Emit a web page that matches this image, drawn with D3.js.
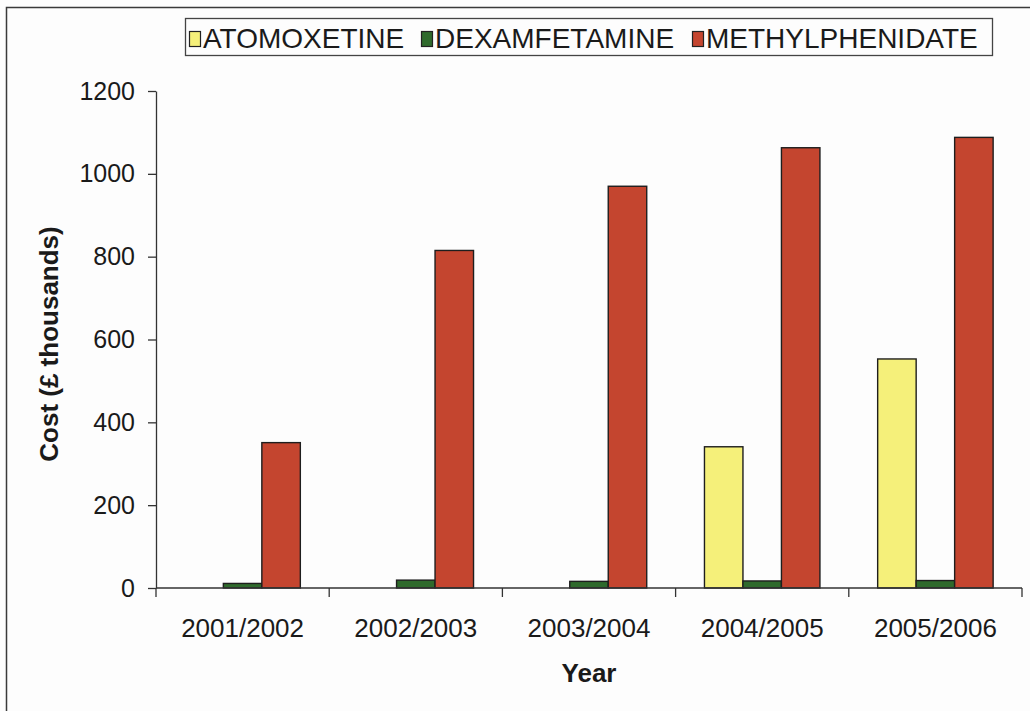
<!DOCTYPE html>
<html>
<head>
<meta charset="utf-8">
<script src="https://cdn.jsdelivr.net/npm/d3@7"></script>
<style>
  html, body { margin: 0; padding: 0; background: #fdfdfd; }
  svg { display: block; font-family: Arial, "Liberation Sans", sans-serif; }
</style>
</head>
<body>
<svg id="chart" width="1030" height="711"></svg>
<script>
// ---- data ----
const categories = ["2001/2002", "2002/2003", "2003/2004", "2004/2005", "2005/2006"];
const seriesNames = ["ATOMOXETINE", "DEXAMFETAMINE", "METHYLPHENIDATE"];
const atomoxetine = [0, 0, 0, 341, 553];
const dexamfetamine = [11, 19, 16, 17, 18];
const methylphenidate = [351, 815, 970, 1063, 1088];
const yTicks = [0, 200, 400, 600, 800, 1000, 1200];
const colors = ["#f5f07a", "#2f6a2c", "#c4452f"];

const seriesValues = [atomoxetine, dexamfetamine, methylphenidate];

const svg = d3.select("#chart");

// outer frame
svg.append("rect")
  .attr("x", 6.5).attr("y", 7.5)
  .attr("width", 1060).attr("height", 740)
  .attr("fill", "#fdfdfd")
  .attr("stroke", "#3a3a3a").attr("stroke-width", 1.5);

const plotLeft = 156, plotRight = 1022, plotTop = 91, plotBottom = 588;

const x = d3.scaleBand().domain(categories).range([plotLeft, plotRight]).paddingInner(0).paddingOuter(0);
const bw = x.bandwidth();
const x1 = d3.scaleBand().domain(seriesNames).range([bw / 6, bw * 5 / 6]).padding(0);
const y = d3.scaleLinear().domain([0, 1200]).range([plotBottom, plotTop]);

// bars
const rows = [];
categories.forEach((c, i) => {
  seriesNames.forEach((s, j) => {
    rows.push({ cat: c, series: s, value: seriesValues[j][i], color: colors[j] });
  });
});

svg.append("g").selectAll("rect")
  .data(rows.filter(d => d.value > 0))
  .join("rect")
  .attr("x", d => x(d.cat) + x1(d.series))
  .attr("y", d => y(d.value))
  .attr("width", x1.bandwidth())
  .attr("height", d => y(0) - y(d.value))
  .attr("fill", d => d.color)
  .attr("stroke", "#1e1e1e")
  .attr("stroke-width", 1.4);

// y axis
const yAxis = svg.append("g")
  .attr("transform", `translate(${plotLeft},0)`)
  .call(d3.axisLeft(y).tickValues(yTicks).tickFormat(d3.format("d"))
    .tickSize(8).tickPadding(13).tickSizeOuter(0));
yAxis.select(".domain").attr("stroke", "#333").attr("stroke-width", 1.3);
yAxis.selectAll(".tick line").attr("stroke", "#333").attr("stroke-width", 1.3);
yAxis.selectAll(".tick text")
  .attr("font-size", 25).attr("fill", "#1a1a1a")
  .attr("font-family", "Arial, 'Liberation Sans', sans-serif");

// x axis line
svg.append("line")
  .attr("x1", plotLeft).attr("x2", plotRight)
  .attr("y1", y(0)).attr("y2", y(0))
  .attr("stroke", "#333").attr("stroke-width", 1.3);

// category boundary ticks
const boundaries = categories.map(c => x(c)).concat([x(categories[categories.length - 1]) + bw]);
svg.append("g").selectAll("line")
  .data(boundaries)
  .join("line")
  .attr("x1", d => d).attr("x2", d => d)
  .attr("y1", y(0)).attr("y2", y(0) + 9)
  .attr("stroke", "#333").attr("stroke-width", 1.3);

// x labels
svg.append("g").selectAll("text")
  .data(categories)
  .join("text")
  .attr("x", d => x(d) + bw / 2)
  .attr("y", 637)
  .attr("text-anchor", "middle")
  .attr("font-size", 26)
  .attr("fill", "#1a1a1a")
  .text(d => d);

// axis titles
svg.append("text")
  .attr("x", 589).attr("y", 682)
  .attr("text-anchor", "middle")
  .attr("font-size", 26).attr("font-weight", "bold")
  .attr("fill", "#1a1a1a")
  .text("Year");

svg.append("text")
  .attr("transform", "translate(58,344) rotate(-90)")
  .attr("text-anchor", "middle")
  .attr("font-size", 26).attr("font-weight", "bold")
  .attr("fill", "#1a1a1a")
  .text("Cost (£ thousands)");

// legend
const legend = svg.append("g");
legend.append("rect")
  .attr("x", 185.5).attr("y", 18.5)
  .attr("width", 807).attr("height", 37)
  .attr("fill", "#fdfdfd")
  .attr("stroke", "#444").attr("stroke-width", 1.3);

const legendX = [189, 421, 692];
const legendItems = legend.selectAll("g.item")
  .data(seriesNames)
  .join("g")
  .attr("class", "item")
  .attr("transform", (d, i) => `translate(${legendX[i]},0)`);
legendItems.append("rect")
  .attr("x", 0.5).attr("y", 31.5)
  .attr("width", 11).attr("height", 15)
  .attr("fill", (d, i) => colors[i])
  .attr("stroke", "#222").attr("stroke-width", 1.2);
legendItems.append("text")
  .attr("x", 14).attr("y", 48)
  .attr("font-size", 28)
  .attr("fill", "#1a1a1a")
  .text(d => d);
</script>
</body>
</html>
